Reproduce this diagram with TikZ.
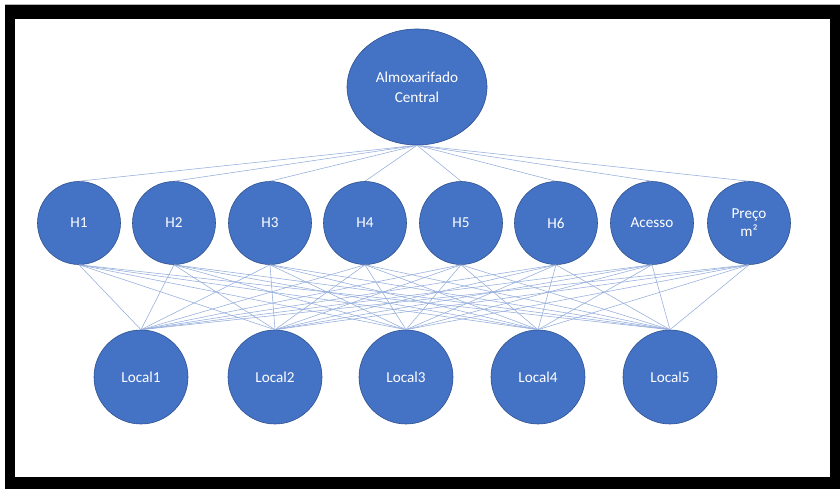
\documentclass[tikz,border=0pt]{standalone}
\usepackage{fontspec}
\setmainfont{Carlito}
\usetikzlibrary{shapes.geometric}
\definecolor{nodeblue}{HTML}{4472C4}
\definecolor{nodeedge}{HTML}{2F528F}
\definecolor{linkblue}{HTML}{95AEDC}
\begin{document}
\begin{tikzpicture}[x=1pt,y=-1pt,
  bubble/.style={circle,fill=nodeblue,draw=nodeedge,line width=0.6pt,minimum size=83pt,inner sep=0pt,
    text=white,font=\fontsize{15.2}{18}\selectfont,align=center},
  bigbubble/.style={bubble,minimum size=94pt},
  topbubble/.style={ellipse,fill=nodeblue,draw=nodeedge,line width=0.6pt,minimum width=140pt,minimum height=116pt,inner sep=0pt,
    text=white,font=\fontsize{15.2}{20}\selectfont,align=center},
  link/.style={draw=linkblue,line width=0.55pt}]
\useasboundingbox (0,0) rectangle (840,489);
\fill[white] (0,0) rectangle (840,489);
\fill[black] (5,5) rectangle (840,489);
\fill[white] (15,19) rectangle (830,477);
\draw[gray!60,line width=0.6pt] (5,4.5) -- (840,4.5);
% top node
\node[topbubble] (top) at (417,87) {Almoxarifado\\Central};
% middle row
\node[bubble] (h1) at (79,223) {H1};
\node[bubble] (h2) at (174,223) {H2};
\node[bubble] (h3) at (270,223) {H3};
\node[bubble] (h4) at (365,223) {H4};
\node[bubble] (h5) at (461,223) {H5};
\node[bubble] (h6) at (556,223) {H6};
\node[bubble] (h7) at (652,223) {Acesso};
\node[bubble] (h8) at (749,223) {Preço\\m²};
% bottom row
\node[bigbubble] (l1) at (141,377) {Local1};
\node[bigbubble] (l2) at (275,377) {Local2};
\node[bigbubble] (l3) at (406,377) {Local3};
\node[bigbubble] (l4) at (538,377) {Local4};
\node[bigbubble] (l5) at (670,377) {Local5};
% links
\foreach \h in {h1,h2,h3,h4,h5,h6,h7,h8}{
  \draw[link] (top.south) -- (\h.north);
  \foreach \l in {l1,l2,l3,l4,l5}{
    \draw[link] (\h.south) -- (\l.north);
  }
}
\end{tikzpicture}
\end{document}
